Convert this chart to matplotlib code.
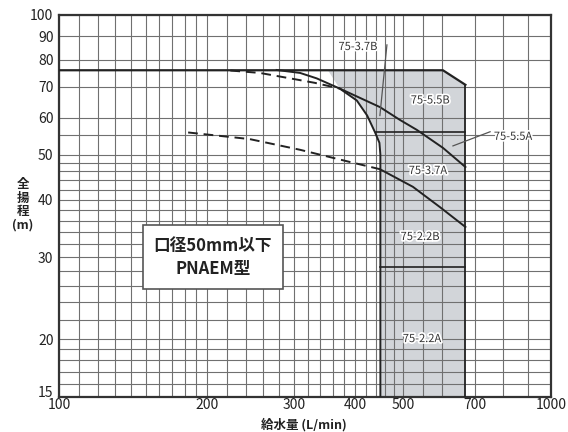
import matplotlib
matplotlib.use("Agg")
import matplotlib.pyplot as plt
import matplotlib.patheffects as pe
import matplotlib.transforms as mtransforms
from matplotlib.patches import Rectangle, Polygon

plt.rcParams['font.family'] = ['Noto Sans CJK JP', 'DejaVu Sans']

# axis ticks / grid
x_ticks = [100, 200, 300, 400, 500, 700, 1000]
y_ticks = [15, 20, 30, 40, 50, 60, 70, 80, 90, 100]
x_grid = (list(range(110, 200, 10)) + list(range(200, 500, 20))
          + [500, 550, 600, 700, 800, 900])
y_grid = (list(range(16, 20)) + list(range(20, 50, 2)) + [50, 55]
          + list(range(60, 100, 10)))

# shut-off head line
shutoff_q = [100, 603, 670]
shutoff_h = [76, 76, 70.7]

# curves (flow L/min, head m)
s1_q = [277, 309, 334, 372, 403, 423, 439, 448, 450, 450]
s1_h = [76.1, 75.0, 73.0, 69.4, 65.4, 60.7, 55.8, 53.0, 50.0, 15]
d1_q = [223, 256, 295, 331, 372]
d1_h = [75.9, 75.0, 73.0, 71.4, 69.4]
s2_q = [372, 449, 493, 534, 603, 670]
s2_h = [69.4, 63.3, 59.4, 56.5, 51.7, 47.0]
d2_q = [183, 244, 309, 390, 449]
d2_h = [55.8, 54.0, 51.2, 48.2, 46.5]
s3_q = [449, 524, 595, 670]
s3_h = [46.5, 42.6, 38.5, 34.9]

# region limits
right_q = 670
split_hi = ([440, 670], [56, 56])
split_lo = ([450, 670], [28.6, 28.6])
gray_q = [352, 603, 670, 670, 450, 450, 448, 439, 423, 403, 372]
gray_h = [76, 76, 70.7, 15, 15, 50.0, 53.0, 55.8, 60.7, 65.4, 69.4]

# region labels (text, flow, head)
labels = [("75-5.5B", 568, 65.4), ("75-3.7A", 562, 46.1),
          ("75-2.2B", 542, 33.2), ("75-2.2A", 547, 20.0)]
lbl_37b = ("75-3.7B", 405, 85.3)
lead_37b = ([464, 464, 449], [86.2, 86.2, 60.7])
lbl_55a = ("75-5.5A", 837, 54.6)
lead_55a = ([752, 632], [56.0, 52.2])

fig = plt.figure(figsize=(5.68, 4.32), dpi=100)
ax = fig.add_axes([59 / 568, 1 - 397 / 432, 492 / 568, 382 / 432])
ax.set_xscale('log')
ax.set_yscale('log')
ax.set_xlim(100, 1000)
ax.set_ylim(15, 100)

ax.add_patch(Polygon(list(zip(gray_q, gray_h)), closed=True,
                     facecolor='#d2d5d9', edgecolor='none', zorder=0))

ax.set_xticks(x_ticks)
ax.set_xticklabels([str(v) for v in x_ticks])
ax.set_yticks(y_ticks)
ax.set_yticklabels([str(v) for v in y_ticks])
ax.set_xticks(x_grid, minor=True)
ax.set_yticks(y_grid, minor=True)
ax.tick_params(which='both', length=0, labelsize=10, colors='#222222')
ax.tick_params(axis='x', pad=1)
ax.tick_params(axis='y', pad=4)
ax.xaxis.set_minor_formatter(matplotlib.ticker.NullFormatter())
ax.yaxis.set_minor_formatter(matplotlib.ticker.NullFormatter())
ax.grid(which='both', color='#707070', lw=0.8, zorder=1)
ax.set_axisbelow(True)
for sp in ax.spines.values():
    sp.set_linewidth(1.6)
    sp.set_color('#333333')

# lift the bottom "15" label a little so it clears "100"
lbl15 = ax.get_yticklabels()[0]
lbl15.set_transform(lbl15.get_transform()
                    + mtransforms.ScaledTranslation(0, 4 / 72, fig.dpi_scale_trans))

lc = '#222222'
ax.plot(shutoff_q, shutoff_h, color=lc, lw=1.6, zorder=3)
ax.plot([right_q, right_q], [70.7, 15], color=lc, lw=1.3, zorder=3)
ax.plot(s1_q, s1_h, color=lc, lw=1.4, zorder=3)
ax.plot(d1_q, d1_h, color=lc, lw=1.4, ls=(0, (5, 3)), zorder=3)
ax.plot(s2_q, s2_h, color=lc, lw=1.4, zorder=3)
ax.plot(d2_q, d2_h, color=lc, lw=1.4, ls=(0, (5, 3)), zorder=3)
ax.plot(s3_q, s3_h, color=lc, lw=1.4, zorder=3)
ax.plot(*split_hi, color=lc, lw=1.2, zorder=3)
ax.plot(*split_lo, color=lc, lw=1.2, zorder=3)

halo = [pe.withStroke(linewidth=2.5, foreground='white')]
for t, q, h in labels:
    ax.text(q, h, t, fontsize=8, ha='center', va='center', color='#333333',
            path_effects=halo, zorder=5)
ax.text(lbl_37b[1], lbl_37b[2], lbl_37b[0], fontsize=8, ha='center', va='center',
        color='#333333', path_effects=halo, zorder=5)
ax.plot(*lead_37b, color='#555555', lw=0.9, zorder=4)
ax.text(lbl_55a[1], lbl_55a[2], lbl_55a[0], fontsize=8, ha='center', va='center',
        color='#333333', path_effects=halo, zorder=5)
ax.plot(*lead_55a, color='#555555', lw=0.9, zorder=4)

# model note box
ax.add_patch(Rectangle((0.171, 0.283), 0.284, 0.167, transform=ax.transAxes,
                       facecolor='white', edgecolor='#555555', lw=1.2, zorder=6))
ax.text(0.313, 0.395, '口径50mm以下', transform=ax.transAxes, fontsize=12,
        fontweight='bold', ha='center', va='center', color='#222222', zorder=7)
ax.text(0.313, 0.335, 'PNAEM型', transform=ax.transAxes, fontsize=12,
        fontweight='bold', ha='center', va='center', color='#222222', zorder=7)

fig.text(23 / 568, 1 - 205 / 432, '全\n揚\n程\n(m)', fontsize=9, fontweight='bold',
         ha='center', va='center', linespacing=1.05, color='#222222')
fig.text(304 / 568, 1 - 425 / 432, '給水量 (L/min)', fontsize=9, fontweight='bold',
         ha='center', va='center', color='#222222')

fig.savefig('out.png', dpi=100)
